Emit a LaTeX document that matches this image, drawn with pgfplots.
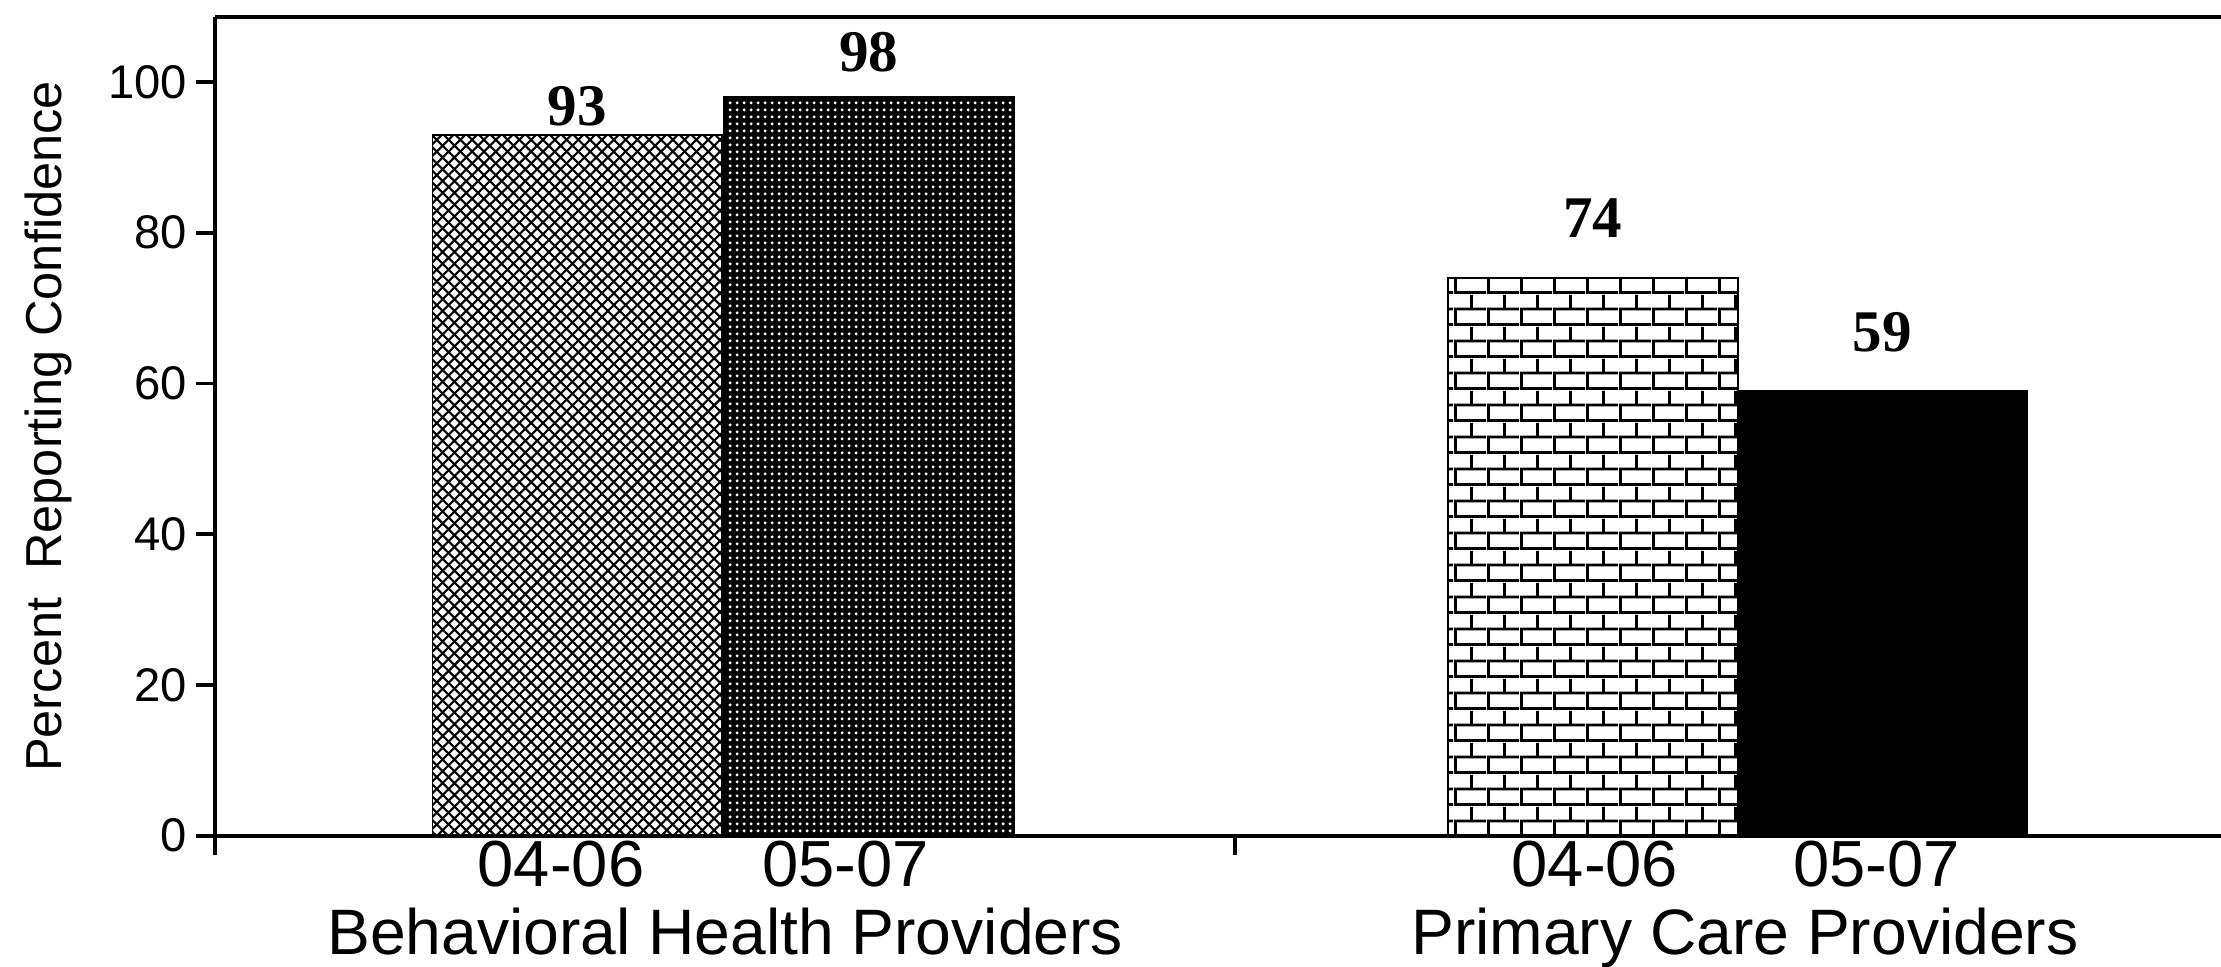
\documentclass[border=0pt]{standalone}
\usepackage{fontspec}
\setmainfont{Liberation Sans}
\newfontfamily\barfont{Liberation Serif}
\usepackage{pgfplots}
\pgfplotsset{compat=1.18}
\usetikzlibrary{patterns}

% light diagonal weave
\pgfdeclarepatternformonly{weave}{\pgfpoint{-0.5pt}{-0.5pt}}{\pgfpoint{3pt}{3pt}}{\pgfpoint{2.5pt}{2.5pt}}{
  \pgfsetlinewidth{0.45pt}
  \pgfpathmoveto{\pgfpoint{0pt}{0pt}}\pgfpathlineto{\pgfpoint{2.5pt}{2.5pt}}
  \pgfpathmoveto{\pgfpoint{0pt}{2.5pt}}\pgfpathlineto{\pgfpoint{2.5pt}{0pt}}
  \pgfusepath{stroke}}
% small dots (white on black)
\pgfdeclarepatternformonly{wdots}{\pgfpoint{0pt}{0pt}}{\pgfpoint{1.4pt}{1.4pt}}{\pgfpoint{1.4pt}{1.4pt}}{
  \pgfpathcircle{\pgfpoint{0.7pt}{0.7pt}}{0.38pt}
  \pgfusepath{fill}}
% bricks
\pgfdeclarepatternformonly{mybricks}{\pgfpoint{0pt}{0pt}}{\pgfpoint{7pt}{6.8pt}}{\pgfpoint{7pt}{6.8pt}}{
  \pgfsetlinewidth{0.6pt}
  \pgfpathmoveto{\pgfpoint{0pt}{0.3pt}}\pgfpathlineto{\pgfpoint{7pt}{0.3pt}}
  \pgfpathmoveto{\pgfpoint{0pt}{3.7pt}}\pgfpathlineto{\pgfpoint{7pt}{3.7pt}}
  \pgfpathmoveto{\pgfpoint{0.3pt}{0pt}}\pgfpathlineto{\pgfpoint{0.3pt}{3.4pt}}
  \pgfpathmoveto{\pgfpoint{3.8pt}{3.4pt}}\pgfpathlineto{\pgfpoint{3.8pt}{6.8pt}}
  \pgfusepath{stroke}}

\begin{document}
\begin{tikzpicture}
\useasboundingbox (0,0) rectangle (470.4pt,204.6pt);
\begin{axis}[
  at={(45.6pt,27.6pt)}, anchor=south west,
  width=424.8pt, height=173.4pt, scale only axis,
  xmin=0, xmax=1.967, ymin=0, ymax=108.6,
  clip=false,
  axis y line*=left, axis x line*=box,
  axis line style={line width=0.8pt},
  tick align=outside, tick pos=left,
  major tick length=4pt,
  tick style={black, line width=0.8pt},
  ytick={0,20,...,100},
  yticklabel style={font=\fontsize{10}{12}\selectfont, inner sep=0pt, anchor=east, xshift=-1.8pt},
  /pgf/number format/assume math mode=true,
  xtick={0,1,2}, xticklabels={,,},
  extra x ticks={0.339,0.618,1.353,1.629},
  extra x tick labels={04-06,05-07,04-06,05-07},
  extra x tick style={major tick length=0pt,
    xticklabel style={font=\fontsize{13.8}{16}\selectfont, inner sep=0pt, anchor=north, yshift=-1pt}},
  ylabel={Percent~ Reporting Confidence},
  every axis y label/.style={at={(axis description cs:-0.0833,0.5)}, rotate=90, anchor=center,
    font=\fontsize{10.7}{12}\selectfont},
  bar width=0.284,
  nodes near coords,
  nodes near coords style={font=\barfont\bfseries\fontsize{12.5}{14}\selectfont, inner sep=0pt, anchor=south, black},
]
\addplot[ybar, bar shift=0pt, draw=black, line width=0.4pt, pattern=weave,
  every node near coord/.append style={yshift=1.7pt}]
  coordinates {(0.355,93)};
\addplot[ybar, bar shift=0pt, draw=black, line width=0.4pt, fill=black,
  postaction={pattern=wdots, pattern color=white},
  every node near coord/.append style={yshift=5pt}]
  coordinates {(0.641,98)};
\addplot[ybar, bar shift=0pt, draw=black, line width=0.4pt, pattern=mybricks,
  every node near coord/.append style={yshift=8.3pt}]
  coordinates {(1.351,74)};
\addplot[ybar, bar shift=0pt, draw=black, line width=0.4pt, fill=black,
  every node near coord/.append style={yshift=8pt}]
  coordinates {(1.635,59)};

\node[anchor=north, inner sep=0pt, font=\fontsize{13.6}{16}\selectfont, yshift=-15pt]
  at (axis cs:0.5,0) {Behavioral Health Providers};
\node[anchor=north, inner sep=0pt, font=\fontsize{13.6}{16}\selectfont, yshift=-15pt]
  at (axis cs:1.5,0) {Primary Care Providers};
\end{axis}
\end{tikzpicture}
\end{document}
